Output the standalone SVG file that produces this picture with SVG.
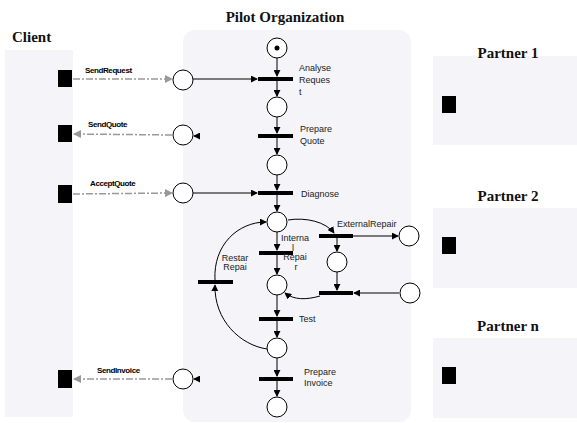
<svg xmlns="http://www.w3.org/2000/svg" width="577" height="423" viewBox="0 0 577 423">
<style>
.panel{fill:#f4f4f9;stroke:none}
.title{font-family:"Liberation Serif",serif;font-size:15px;font-weight:bold;fill:#111}
.lbl{font-family:"Liberation Sans",Arial,sans-serif;font-size:9px;fill:#222}
.msg{font-family:"Liberation Sans",Arial,sans-serif;font-size:8px;font-weight:bold;fill:#000;letter-spacing:-0.4px}
.place{fill:#fff;stroke:#000;stroke-width:1}
.bar{fill:#000}
.port{fill:#000}
.arc{fill:none;stroke:#000;stroke-width:1}
.dash{fill:none;stroke:#999;stroke-width:1.5;stroke-dasharray:7,2,2,2}
</style>
<defs>
<marker id="ah" viewBox="0 0 8 8" refX="7" refY="4" markerWidth="7" markerHeight="7" markerUnits="userSpaceOnUse" orient="auto">
<path d="M0,0 L8,4 L0,8 z" fill="#000"/>
</marker>
<marker id="ahg" viewBox="0 0 8 8" refX="7" refY="4" markerWidth="8" markerHeight="8" markerUnits="userSpaceOnUse" orient="auto">
<path d="M0,0 L8,4 L0,8 z" fill="#999"/>
</marker>
</defs>

<g id="client">
<rect class="panel" x="5" y="50" width="68" height="367"/>
<text class="title" x="12" y="42">Client</text>
<rect class="port" x="58" y="70" width="14" height="17"/>
<rect class="port" x="58" y="125" width="14" height="17"/>
<rect class="port" x="58" y="185" width="14" height="18"/>
<rect class="port" x="58" y="370" width="14" height="18"/>
</g>

<g id="pilot">
<rect class="panel" x="183" y="30" width="228" height="392" rx="12"/>
<text class="title" x="285" y="22" text-anchor="middle">Pilot Organization</text>
</g>

<g id="partner1">
<rect class="panel" x="433" y="56" width="144" height="89"/>
<text class="title" x="508" y="58" text-anchor="middle">Partner 1</text>
<rect class="port" x="442" y="96" width="14" height="17"/>
</g>
<g id="partner2">
<rect class="panel" x="433" y="208" width="144" height="80"/>
<text class="title" x="508" y="201" text-anchor="middle">Partner 2</text>
<rect class="port" x="442" y="237" width="14" height="17"/>
</g>
<g id="partnern">
<rect class="panel" x="433" y="338" width="144" height="80"/>
<text class="title" x="508" y="331" text-anchor="middle">Partner n</text>
<rect class="port" x="442" y="367" width="14" height="17"/>
</g>

<g id="connectors">
<path class="dash" d="M73,79 L172,79" marker-end="url(#ahg)"/>
<path class="dash" d="M172,135 L74,134" marker-end="url(#ahg)"/>
<path class="dash" d="M73,194 L172,193" marker-end="url(#ahg)"/>
<path class="dash" d="M172,379 L74,379" marker-end="url(#ahg)"/>
<path class="arc" d="M193,79 L257,79" marker-end="url(#ah)"/>
<path class="arc" d="M193,193 L257,193" marker-end="url(#ah)"/>
<path class="arc" d="M200,136 L194,136" marker-end="url(#ah)"/>
<path class="arc" d="M200,379 L194,379" marker-end="url(#ah)"/>
<path class="arc" d="M277,58 L277,76" marker-end="url(#ah)"/>
<path class="arc" d="M277,81 L277,96" marker-end="url(#ah)"/>
<path class="arc" d="M277,117 L277,133" marker-end="url(#ah)"/>
<path class="arc" d="M277,138 L277,154" marker-end="url(#ah)"/>
<path class="arc" d="M277,175 L277,190" marker-end="url(#ah)"/>
<path class="arc" d="M277,195 L277,211" marker-end="url(#ah)"/>
<path class="arc" d="M277,232 L277,250" marker-end="url(#ah)"/>
<path class="arc" d="M277,255 L277,274" marker-end="url(#ah)"/>
<path class="arc" d="M277,295 L277,316" marker-end="url(#ah)"/>
<path class="arc" d="M277,321 L277,337" marker-end="url(#ah)"/>
<path class="arc" d="M277,358 L277,376" marker-end="url(#ah)"/>
<path class="arc" d="M277,381 L277,396" marker-end="url(#ah)"/>
<path class="arc" d="M267,349 C240,345 214,320 215,285" marker-end="url(#ah)"/>
<path class="arc" d="M215,280 C213,245 238,222 266,222" marker-end="url(#ah)"/>
<path class="arc" d="M288,220 C306,217 326,222 334,233" marker-end="url(#ah)"/>
<path class="arc" d="M353,236 L398,236" marker-end="url(#ah)"/>
<path class="arc" d="M337,238 L337,251" marker-end="url(#ah)"/>
<path class="arc" d="M337,272 L337,290" marker-end="url(#ah)"/>
<path class="arc" d="M399,293 L354,293" marker-end="url(#ah)"/>
<path class="arc" d="M320,296 C306,300 294,300 285,293" marker-end="url(#ah)"/>
</g>

<g id="send-request">
<text class="msg" x="85" y="73">SendRequest</text>
<circle class="place" cx="183" cy="80" r="10"/>
</g>
<g id="send-quote">
<text class="msg" x="88" y="127">SendQuote</text>
<circle class="place" cx="183" cy="135" r="10"/>
</g>
<g id="accept-quote">
<text class="msg" x="90" y="186">AcceptQuote</text>
<circle class="place" cx="183" cy="193" r="10"/>
</g>
<g id="send-invoice">
<text class="msg" x="97" y="373">SendInvoice</text>
<circle class="place" cx="183" cy="379" r="10"/>
</g>

<g id="p-start">
<circle class="place" cx="277" cy="48" r="10"/>
<circle cx="277" cy="48" r="2.5" fill="#000"/>
</g>
<g id="t-analyse">
<rect class="bar" x="258" y="77" width="35" height="4"/>
<text class="lbl" x="299" y="71">Analyse</text>
<text class="lbl" x="299" y="83">Reques</text>
<text class="lbl" x="299" y="95">t</text>
</g>
<g id="p2"><circle class="place" cx="277" cy="107" r="10"/></g>
<g id="t-prepare-quote">
<rect class="bar" x="258" y="134" width="35" height="4"/>
<text class="lbl" x="300" y="132">Prepare</text>
<text class="lbl" x="300" y="144">Quote</text>
</g>
<g id="p3"><circle class="place" cx="277" cy="165" r="10"/></g>
<g id="t-diagnose">
<rect class="bar" x="258" y="191" width="35" height="4"/>
<text class="lbl" x="301" y="197">Diagnose</text>
</g>
<g id="p4"><circle class="place" cx="277" cy="222" r="10"/></g>
<g id="t-internal">
<rect class="bar" x="259" y="251" width="34" height="4"/>
<text class="lbl" x="295" y="241" text-anchor="middle">Interna</text>
<text class="lbl" x="293" y="251" text-anchor="middle">l</text>
<text class="lbl" x="295" y="260" text-anchor="middle">Repai</text>
<text class="lbl" x="296" y="270" text-anchor="middle">r</text>
</g>
<g id="p5"><circle class="place" cx="277" cy="285" r="10"/></g>
<g id="t-test">
<rect class="bar" x="259" y="317" width="34" height="4"/>
<text class="lbl" x="299" y="322">Test</text>
</g>
<g id="p6"><circle class="place" cx="277" cy="348" r="10"/></g>
<g id="t-invoice">
<rect class="bar" x="259" y="377" width="34" height="4"/>
<text class="lbl" x="304" y="375">Prepare</text>
<text class="lbl" x="304" y="386">Invoice</text>
</g>
<g id="p7"><circle class="place" cx="277" cy="407" r="10"/></g>

<g id="t-restart">
<rect class="bar" x="198" y="280" width="35" height="4"/>
<text class="lbl" x="235" y="261" text-anchor="middle">Restar</text>
<text class="lbl" x="235" y="270" text-anchor="middle">Repai</text>
</g>
<g id="t-external">
<rect class="bar" x="319" y="234" width="34" height="4"/>
<text class="lbl" x="337" y="227">ExternalRepair</text>
</g>
<g id="p-ext-out"><circle class="place" cx="409" cy="236" r="10"/></g>
<g id="p-ext-mid"><circle class="place" cx="337" cy="262" r="10"/></g>
<g id="t-external-return"><rect class="bar" x="319" y="291" width="34" height="4"/></g>
<g id="p-ext-in"><circle class="place" cx="410" cy="293" r="10"/></g>
</svg>
